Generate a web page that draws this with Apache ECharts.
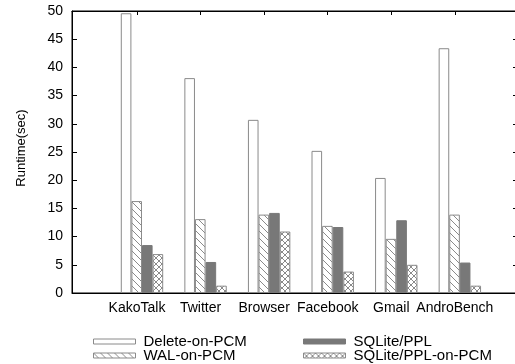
<!DOCTYPE html>
<html><head><meta charset="utf-8">
<script src="https://cdn.jsdelivr.net/npm/echarts@6/dist/echarts.min.js"></script>
<style>html,body{margin:0;padding:0;background:#fff}#c{width:515px;height:364px}</style>
</head><body><div id="c"></div>
<script>
const categories = ['KakoTalk', 'Twitter', 'Browser', 'Facebook', 'Gmail', 'AndroBench'];
const seriesNames = ['Delete-on-PCM', 'WAL-on-PCM', 'SQLite/PPL', 'SQLite/PPL-on-PCM'];
const deleteOnPCM = [49.6, 38.1, 30.7, 25.2, 20.4, 43.4];
const walOnPCM = [16.3, 13.1, 13.9, 11.9, 9.6, 13.9];
const sqlitePPL = [8.5, 5.5, 14.2, 11.7, 12.9, 5.4];
const pplOnPCM = [6.9, 1.3, 10.9, 3.8, 5.0, 1.3];
const yMin = 0, yMax = 50, yStep = 5;

function pattern(size, diag, anti) {
  const c = document.createElement('canvas');
  c.width = size; c.height = size;
  const g = c.getContext('2d');
  g.fillStyle = '#fff'; g.fillRect(0, 0, size, size);
  g.strokeStyle = '#8a8a8a'; g.lineWidth = 1;
  g.beginPath();
  if (diag) { g.moveTo(-1, -1); g.lineTo(size + 1, size + 1); }
  if (anti) { g.moveTo(size + 1, -1); g.lineTo(-1, size + 1); }
  g.stroke();
  return { image: c, repeat: 'repeat' };
}

const font = 'Liberation Sans, Arial, Helvetica, sans-serif';
const chart = echarts.init(document.getElementById('c'), null, { renderer: 'canvas' });
const idx = categories.map((_, i) => i);
const toPts = arr => arr.map((v, i) => [i, v]);

const styles = [
  { color: '#fff', borderColor: '#8a8a8a', borderWidth: 1 },
  { color: pattern(7, true, false), borderColor: '#8a8a8a', borderWidth: 1 },
  { color: '#787878', borderColor: '#787878', borderWidth: 1 },
  { color: pattern(6, true, true), borderColor: '#8a8a8a', borderWidth: 1 }
];
const dataSets = [deleteOnPCM, walOnPCM, sqlitePPL, pplOnPCM];

const legendPos = [
  { left: 93, top: 334 },
  { left: 93, top: 348 },
  { left: 303, top: 334 },
  { left: 303, top: 348 }
];

const option = {
  animation: false,
  backgroundColor: '#fff',
  grid: { left: 72, top: 11, width: 445, height: 282, containLabel: false, outerBoundsMode: 'none',
    show: true, borderColor: '#000', borderWidth: 1, backgroundColor: 'transparent' },
  legend: seriesNames.map((n, k) => ({
    data: [n], left: legendPos[k].left, top: legendPos[k].top,
    icon: 'rect', itemWidth: 42, itemHeight: 5, padding: 0,
    itemStyle: { borderWidth: 1 },
    textStyle: { fontFamily: font, fontSize: 15, color: '#000', padding: [0, 0, 0, 3] },
    selectedMode: false
  })),
  xAxis: [
    { type: 'value', min: -1.101, max: 5.899, show: false, splitLine: { show: false } },
    { type: 'value', position: 'bottom', min: -1.0225, max: 5.9775,
      axisLine: { show: true, onZero: false, lineStyle: { color: '#000', width: 1 } },
      axisTick: { show: true, inside: true, length: 4, customValues: idx, lineStyle: { color: '#000' } },
      axisLabel: { show: true, customValues: idx, formatter: v => categories[Math.round(v)] || '',
        fontFamily: font, fontSize: 14, color: '#000', margin: 8 },
      splitLine: { show: false } },
    { type: 'value', position: 'top', min: -1.0225, max: 5.9775,
      axisLine: { show: true, onZero: false, lineStyle: { color: '#000', width: 1 } },
      axisTick: { show: true, inside: true, length: 4, customValues: idx, lineStyle: { color: '#000' } },
      axisLabel: { show: false },
      splitLine: { show: false } }
  ],
  yAxis: [
    { type: 'value', min: yMin, max: yMax, interval: yStep, position: 'left',
      name: 'Runtime(sec)', nameLocation: 'middle', nameGap: 44,
      nameTextStyle: { fontFamily: font, fontSize: 13, color: '#000', padding: [0, 0, 0, 8] },
      axisLine: { show: true, onZero: false, lineStyle: { color: '#000', width: 1 } },
      axisTick: { show: true, inside: true, length: 5, lineStyle: { color: '#000' } },
      axisLabel: { fontFamily: font, fontSize: 14, color: '#000', margin: 9 },
      splitLine: { show: false } },
    { type: 'value', min: yMin, max: yMax, interval: yStep, position: 'right',
      axisLine: { show: false, onZero: false },
      axisTick: { show: true, inside: true, length: 4, lineStyle: { color: '#000' } },
      axisLabel: { show: false },
      splitLine: { show: false } }
  ],
  series: seriesNames.map((n, k) => ({
    name: n, type: 'bar', xAxisIndex: 0, yAxisIndex: 0,
    barWidth: 10.6, barGap: '0%',
    itemStyle: styles[k],
    data: toPts(dataSets[k])
  }))
};
chart.setOption(option);
</script></body></html>
